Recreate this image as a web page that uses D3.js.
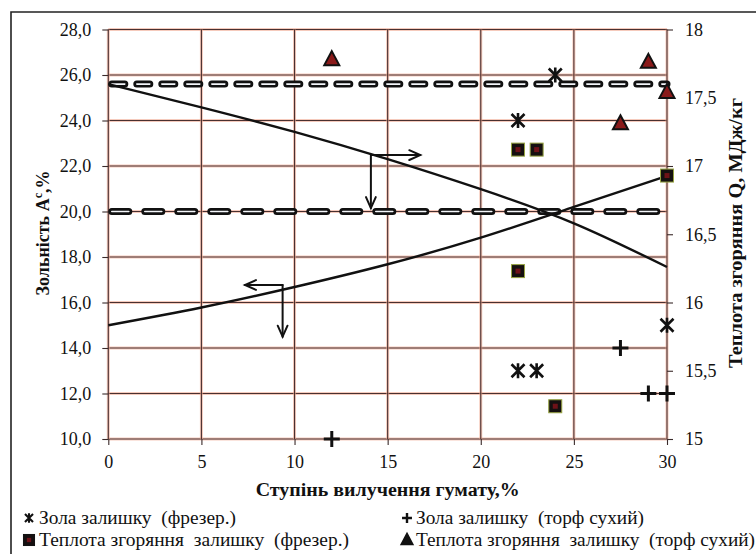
<!DOCTYPE html>
<html>
<head>
<meta charset="utf-8">
<script src="https://cdn.jsdelivr.net/npm/d3@7/dist/d3.min.js"></script>
<style>
  body { margin: 0; background: #fff; }
  svg, svg text, svg tspan { font-family: "Liberation Serif", serif !important; }
</style>
</head>
<body>
<svg id="chart" width="756" height="554" font-family="Liberation Serif"></svg>
<script>
// ---- data ----
const trendX      = [0, 5, 10, 15, 20, 25, 30];
const ashTrend    = [15.0, 15.78, 16.68, 17.68, 18.85, 20.2, 21.56];   // left axis, %
const heatTrend   = [17.6, 17.43, 17.25, 17.05, 16.83, 16.58, 16.26];  // right axis, MJ/kg
const refLevels   = [25.6, 20.0];                                       // left axis, %

const ashMillX  = [22, 24, 22, 23, 30];
const ashMillY  = [24.0, 26.0, 13.0, 13.0, 15.0];
const ashDryX   = [12, 27.5, 29, 30];
const ashDryY   = [10.0, 14.0, 12.0, 12.0];
const heatMillX = [22, 23, 22, 24, 30];
const heatMillY = [17.12, 17.12, 16.23, 15.24, 16.93];
const heatDryX  = [12, 27.5, 29, 30];
const heatDryY  = [17.78, 17.31, 17.76, 17.54];

const xTicks     = [0, 5, 10, 15, 20, 25, 30];
const leftTicks  = [10, 12, 14, 16, 18, 20, 22, 24, 26, 28];
const rightTicks = [15, 15.5, 16, 16.5, 17, 17.5, 18];

const xTitle     = "Ступінь вилучення гумату,%";
const rightTitle = "Теплота згоряння Q, МДж/кг";
const legendLabels = [
  "Зола залишку  (фрезер.)",
  "Зола залишку  (торф сухий)",
  "Теплота згоряння  залишку  (фрезер.)",
  "Теплота згоряння  залишку  (торф сухий)"
];

// arrows that tie each trend curve to its axis (data units)
const heatArrow = { x: 14.1, q: 17.08, toX: 16.75, downTo: 20.15 };
const ashArrow  = { x: 9.36, a: 16.77, toX: 7.34,  downTo: 14.5 };

// ---- layout ----
const FONT = '"Liberation Serif", serif';
const svg = d3.select("#chart");
const x  = d3.scaleLinear().domain([0, 30]).range([108.3, 667]);
const yL = d3.scaleLinear().domain([10, 28]).range([439, 29.5]);
const yR = d3.scaleLinear().domain([15, 18]).range([439, 29.5]);
const comma = s => String(s).replace(".", ",");
const font = (sel, size, bold) => sel.attr("font-family", "Liberation Serif")
  .style("font-family", FONT).style("font-size", size + "px")
  .style("font-weight", bold ? "bold" : "normal").style("fill", "#111");

svg.append("rect").attr("width", 756).attr("height", 554).attr("fill", "#fff");

// outer frame
svg.append("path").attr("d", "M11,556 L11,12 L758,12")
   .attr("fill", "none").attr("stroke", "#222").attr("stroke-width", 1.6);

// ---- grid ----
const grid = svg.append("g");
function gridLine(x1, y1, x2, y2) {
  grid.append("line").attr("x1", x1).attr("y1", y1).attr("x2", x2).attr("y2", y2)
      .attr("stroke", "#f0a890").attr("stroke-width", 3).attr("opacity", 0.6);
  grid.append("line").attr("x1", x1).attr("y1", y1).attr("x2", x2).attr("y2", y2)
      .attr("stroke", "#4a3030").attr("stroke-width", 1.1);
}
leftTicks.forEach(v => gridLine(x(0), yL(v), x(30), yL(v)));
xTicks.forEach(v => gridLine(x(v), yL(28), x(v), yL(10)));

// ---- axes ----
function styleAxis(g) {
  g.attr("font-family", "Liberation Serif").attr("font-size", 18);
  g.select(".domain").remove();
  g.selectAll("line").attr("stroke", "#3a2a2a").attr("stroke-width", 1.1);
  font(g.selectAll("text"), 18, false);
}
svg.append("g").attr("transform", `translate(${x(0)},0)`)
   .call(d3.axisLeft(yL).tickValues(leftTicks).tickSize(6).tickPadding(11)
         .tickFormat(d => comma(d3.format(".1f")(d))))
   .call(styleAxis);
svg.append("g").attr("transform", `translate(0,${yL(10)})`)
   .call(d3.axisBottom(x).tickValues(xTicks).tickSize(6).tickPadding(10)
         .tickFormat(d => d))
   .call(styleAxis);
svg.append("g").attr("transform", `translate(${x(30)},0)`)
   .call(d3.axisRight(yR).tickValues(rightTicks).tickSize(6).tickPadding(12)
         .tickFormat(d => comma(d)))
   .call(styleAxis);

// ---- reference dashed levels ----
const dashes = ["13,12", "17,16"];
refLevels.forEach((v, i) => {
  [["#111", 7], ["#f4f6fa", 1.6]].forEach(([col, w]) => {
    svg.append("line").attr("x1", x(0) + 3.5).attr("x2", x(30)).attr("y1", yL(v)).attr("y2", yL(v))
       .attr("stroke", col).attr("stroke-width", w).attr("stroke-linecap", "round")
       .attr("stroke-dasharray", dashes[i]);
  });
});

// ---- trend curves ----
const ashLine = d3.line().x((d, i) => x(trendX[i])).y(d => yL(d)).curve(d3.curveNatural);
const heatLine = d3.line().x((d, i) => x(trendX[i])).y(d => yR(d)).curve(d3.curveNatural);
svg.append("path").attr("d", ashLine(ashTrend)).attr("fill", "none")
   .attr("stroke", "#111").attr("stroke-width", 2.4);
svg.append("path").attr("d", heatLine(heatTrend)).attr("fill", "none")
   .attr("stroke", "#111").attr("stroke-width", 2.4);

// ---- arrows ----
function arrow(x1, y1, x2, y2) {
  const g = svg.append("g").attr("stroke", "#111").attr("stroke-width", 2).attr("fill", "none")
               .attr("stroke-linecap", "round");
  g.append("line").attr("x1", x1).attr("y1", y1).attr("x2", x2).attr("y2", y2);
  const a = Math.atan2(y2 - y1, x2 - x1), L = 12, s = 0.42;
  g.append("path").attr("d",
    `M${x2 - L * Math.cos(a - s)},${y2 - L * Math.sin(a - s)} L${x2},${y2} L${x2 - L * Math.cos(a + s)},${y2 - L * Math.sin(a + s)}`);
}
{
  const ax = x(heatArrow.x), ay = yR(heatArrow.q);
  arrow(ax, ay, x(heatArrow.toX), ay);
  arrow(ax, ay, ax, yL(heatArrow.downTo));
  const bx = x(ashArrow.x), by = yL(ashArrow.a);
  arrow(bx, by, x(ashArrow.toX), by);
  arrow(bx, by, bx, yL(ashArrow.downTo));
}

// ---- markers ----
function star(g, cx, cy, k = 1) {
  g.append("path").attr("d",
    `M${cx - 6.5 * k},${cy - 6.5 * k} L${cx + 6.5 * k},${cy + 6.5 * k} M${cx - 6.5 * k},${cy + 6.5 * k} L${cx + 6.5 * k},${cy - 6.5 * k} M${cx},${cy - 7.5 * k} L${cx},${cy + 7.5 * k}`)
   .attr("stroke", "#111").attr("stroke-width", 2.6 * Math.max(k, 0.8)).attr("fill", "none");
}
function plus(g, cx, cy, k = 1) {
  g.append("path").attr("d",
    `M${cx - 8 * k},${cy} L${cx + 8 * k},${cy} M${cx},${cy - 8 * k} L${cx},${cy + 8 * k}`)
   .attr("stroke", "#111").attr("stroke-width", 3 * Math.max(k, 0.8)).attr("fill", "none");
}
function square(g, cx, cy, k = 1, edge = "#97a442") {
  const s = 13 * k;
  g.append("rect").attr("x", cx - s / 2).attr("y", cy - s / 2).attr("width", s).attr("height", s)
   .attr("fill", "#151010").attr("stroke", edge).attr("stroke-width", 1);
  g.append("rect").attr("x", cx - 2.5 * k).attr("y", cy - 2.5 * k).attr("width", 5 * k).attr("height", 5 * k)
   .attr("fill", "#6e1218");
}
function tri(g, cx, cy, k = 1, fill = "#8a1a1a") {
  const w = 7.5 * k, h = 14 * k;
  g.append("path").attr("d", `M${cx},${cy - h * 0.6} L${cx + w},${cy + h * 0.4} L${cx - w},${cy + h * 0.4} Z`)
   .attr("fill", fill).attr("stroke", "#111").attr("stroke-width", 2 * k).attr("stroke-linejoin", "miter");
}
const mk = svg.append("g");
heatMillX.forEach((v, i) => square(mk, x(v), yR(heatMillY[i])));
heatDryX.forEach((v, i) => tri(mk, x(v), yR(heatDryY[i])));
ashMillX.forEach((v, i) => star(mk, x(v), yL(ashMillY[i])));
ashDryX.forEach((v, i) => plus(mk, x(v), yL(ashDryY[i])));

// ---- titles ----
svg.append("text").attr("x", (x(0) + x(30)) / 2).attr("y", 496).attr("text-anchor", "middle")
   .call(font, 18, true)
   .attr("textLength", 264).attr("lengthAdjust", "spacingAndGlyphs").text(xTitle);

const lt = svg.append("text").attr("transform", "translate(49,233) rotate(-90)")
   .attr("text-anchor", "middle").call(font, 18, true);
lt.append("tspan").text("Зольність A");
lt.append("tspan").attr("dy", -7).style("font-size", "12px").text("c");
lt.append("tspan").attr("dy", 7).text(",%");

svg.append("text").attr("transform", "translate(742,233) rotate(-90)")
   .attr("text-anchor", "middle").call(font, 18, true)
   .attr("textLength", 270).attr("lengthAdjust", "spacingAndGlyphs").text(rightTitle);

// ---- legend ----
const lg = svg.append("g");
const legRows = [524, 546], legCols = [[29, 39], [407, 416]];
const legWidths = [197, 228, 310, 339];
const legDraw = [
  (cx, cy) => star(lg, cx, cy, 0.62),
  (cx, cy) => plus(lg, cx, cy, 0.62),
  (cx, cy) => square(lg, cx, cy, 0.85, "#111"),
  (cx, cy) => tri(lg, cx, cy, 0.78, "#111")
];
legendLabels.forEach((t, i) => {
  const col = i % 2, row = Math.floor(i / 2);
  legDraw[i](legCols[col][0], legRows[row] - 6);
  lg.append("text").attr("x", legCols[col][1]).attr("y", legRows[row])
    .call(font, 18, false).attr("xml:space", "preserve")
    .attr("textLength", legWidths[i]).attr("lengthAdjust", "spacingAndGlyphs").text(t);
});
</script>
</body>
</html>
